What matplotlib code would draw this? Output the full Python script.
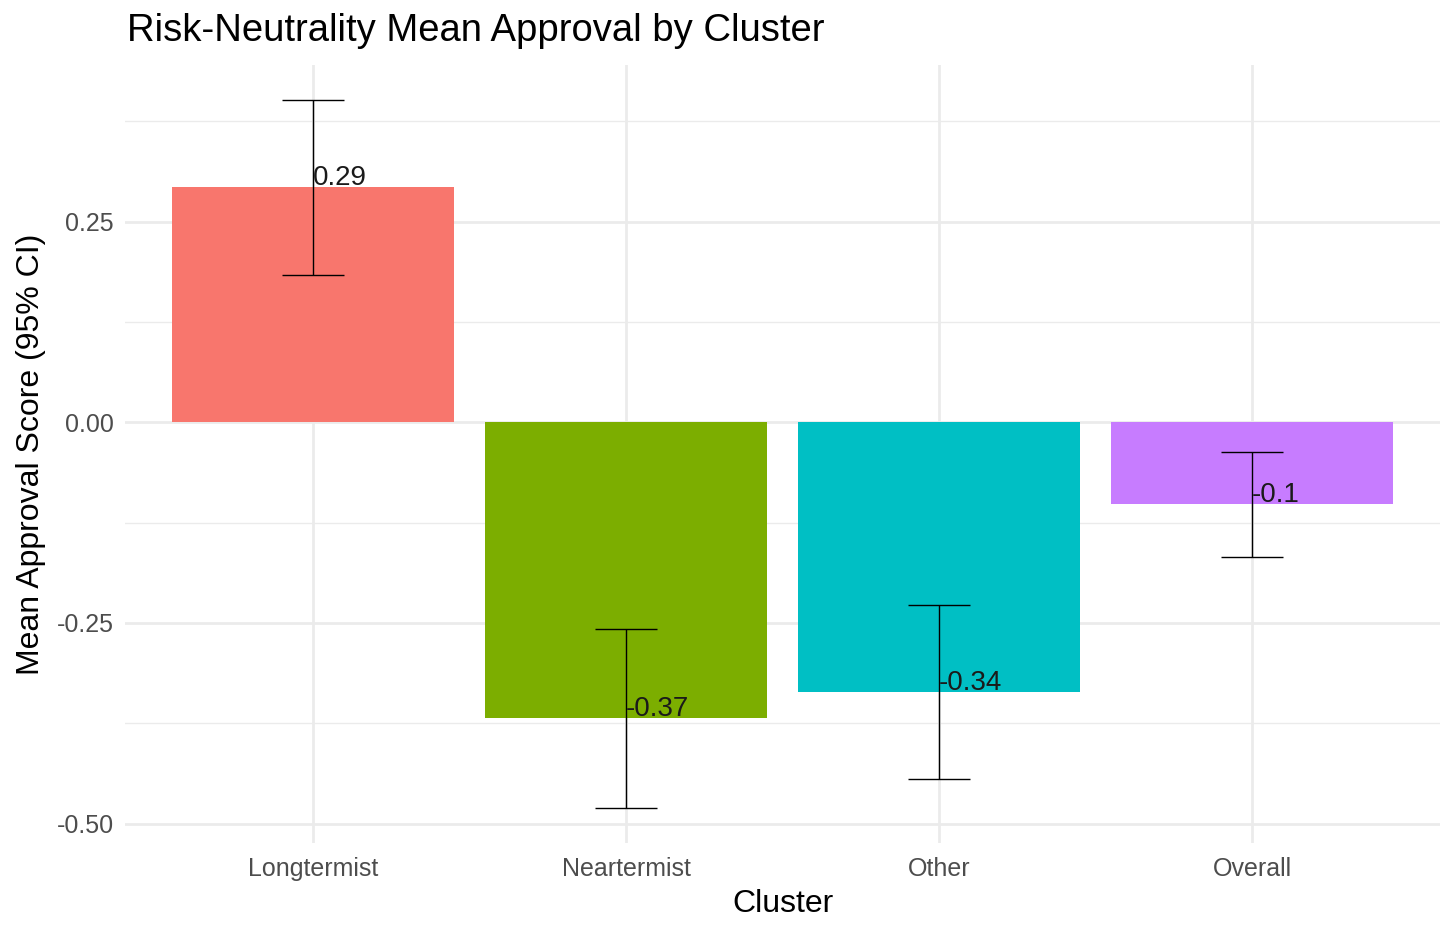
import numpy as np
import matplotlib
matplotlib.use("Agg")
import matplotlib.pyplot as plt
from matplotlib.ticker import MultipleLocator
from matplotlib.transforms import offset_copy

plt.rcParams['font.family'] = ['Liberation Sans', 'DejaVu Sans']

clusters = ["Longtermist", "Neartermist", "Other", "Overall"]
means = [0.293, -0.368, -0.336, -0.102]
ci_low = [0.184, -0.480, -0.444, -0.168]
ci_high = [0.401, -0.258, -0.228, -0.037]
colors = ["#F8766D", "#7CAE00", "#00BFC4", "#C77CFF"]

fig = plt.figure(figsize=(14.56, 9.36), dpi=100)
ax = fig.add_axes([125/1456, 1 - 843/936, (1440-125)/1456, (843-65)/936])

x = np.arange(1, len(clusters) + 1)
ax.bar(x, means, width=0.9, color=colors, zorder=2)

m = np.array(means)
yerr = np.array([m - np.array(ci_low), np.array(ci_high) - m])
ax.errorbar(x, means, yerr=yerr, fmt='none', ecolor='black', elinewidth=1,
            capsize=22.5, capthick=1, zorder=3)

# labels sit just above the mean, left edge on the bar centre
lab_tr = offset_copy(ax.transData, fig=fig, x=0, y=1.5, units='points')
for xi, mi in zip(x, means):
    lab = f"{round(mi, 2):g}"
    ax.text(xi, mi, lab, ha='left', va='baseline', fontsize=20, color='#1a1a1a',
            zorder=4, transform=lab_tr)

lo = min(ci_low)
hi = max(ci_high)
pad = (hi - lo) * 0.05
ax.set_ylim(lo - pad, hi + pad)
ax.set_xlim(0.4, 4.6)

ax.set_xticks(x)
ax.set_xticklabels(clusters)
ax.yaxis.set_major_locator(MultipleLocator(0.25))
ax.yaxis.set_minor_locator(MultipleLocator(0.125))
ax.yaxis.set_major_formatter(plt.FuncFormatter(lambda v, p: f"{v:.2f}"))

ax.grid(which='major', color='#EBEBEB', linewidth=2, zorder=0)
ax.grid(which='minor', axis='y', color='#EBEBEB', linewidth=1, zorder=0)
ax.set_axisbelow(True)
for s in ax.spines.values():
    s.set_visible(False)
ax.tick_params(axis='both', which='both', length=0, labelsize=18, labelcolor='#4D4D4D')
ax.tick_params(axis='x', pad=10)
ax.tick_params(axis='y', pad=8)

ax.set_xlabel("Cluster", fontsize=23, labelpad=6)
ax.set_ylabel("Mean Approval Score (95% CI)", fontsize=23, labelpad=8)
fig.text(127/1456, 1 - 31/936, "Risk-Neutrality Mean Approval by Cluster",
         fontsize=27.5, ha='left', va='center')

fig.savefig("out.png", dpi=100)
